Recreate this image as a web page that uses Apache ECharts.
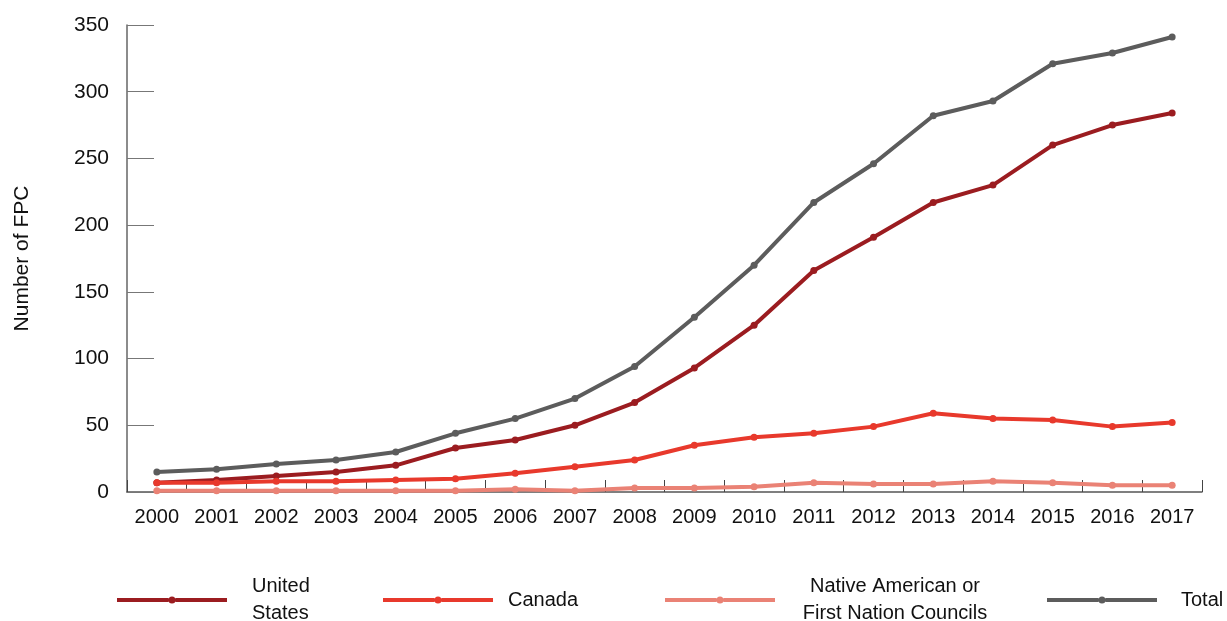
<!DOCTYPE html>
<html>
<head>
<meta charset="utf-8">
<script src="https://cdn.jsdelivr.net/npm/echarts@6/dist/echarts.min.js"></script>
<style>
html,body{margin:0;padding:0;background:#fff;}
#chart{width:1227px;height:621px;}
</style>
</head>
<body>
<div id="chart"></div>
<script>
var years = ['2000','2001','2002','2003','2004','2005','2006','2007','2008','2009','2010','2011','2012','2013','2014','2015','2016','2017'];
var unitedStates = [7, 9, 12, 15, 20, 33, 39, 50, 67, 93, 125, 166, 191, 217, 230, 260, 275, 284];
var canada = [7, 7, 8, 8, 9, 10, 14, 19, 24, 35, 41, 44, 49, 59, 55, 54, 49, 52];
var nativeCouncils = [1, 1, 1, 1, 1, 1, 2, 1, 3, 3, 4, 7, 6, 6, 8, 7, 5, 5];
var total = [15, 17, 21, 24, 30, 44, 55, 70, 94, 131, 170, 217, 246, 282, 293, 321, 329, 341];
var yTicks = {min: 0, max: 350, interval: 50};
var seriesNames = ['United\nStates', 'Canada', 'Native American or\nFirst Nation Councils', 'Total'];

var colors = ['#9B1C20', '#E8392C', '#EA8275', '#5C5C5C'];
var font = 'Liberation Sans, Arial, sans-serif';
var chart = echarts.init(document.getElementById('chart'), null, {renderer: 'canvas'});

var legendIcon = 'path://M0,2 L51.6,2 L51.6,6 L0,6 Z M58.4,2 L110,2 L110,6 L58.4,6 Z M51.5,4 A3.5,3.5 0 1,1 58.5,4 A3.5,3.5 0 1,1 51.5,4 Z M0,0 L0.01,0 L0.01,0.01 Z M0,8 L0.01,8 L0.01,7.99 Z';
var LH = 27;

function mkSeries(name, data, color, z) {
  return {
    name: name, type: 'line', data: data, z: z,
    symbol: 'circle', symbolSize: 7, showSymbol: true,
    lineStyle: {width: 4, color: color},
    itemStyle: {color: color},
    emphasis: {disabled: true}
  };
}
function mkLegend(name, left, lines, pad, extra) {
  var ts = {fontFamily: font, fontSize: 20, color: '#111', lineHeight: LH, padding: [0, 0, 0, pad]};
  var lg = {
    data: [name], left: left, top: lines === 2 ? 600 - LH : 600 - LH / 2,
    padding: 0, itemWidth: 110, itemHeight: 8, itemGap: 0,
    icon: legendIcon,
    textStyle: ts, selectedMode: false
  };
  if (extra) { for (var k in extra) lg[k] = extra[k]; }
  return lg;
}
chart.setOption({
  animation: false,
  color: colors,
  grid: {left: 127, right: 25, top: 25, bottom: 129},
  legend: [
    mkLegend(seriesNames[0], 117, 2, 20),
    mkLegend(seriesNames[1], 383, 1, 10),
    mkLegend(seriesNames[2], 665, 2, 15, {
      formatter: function () { return '{a|Native American or}\n{a|First Nation Councils}'; },
      textStyle: {fontFamily: font, fontSize: 20, color: '#111', lineHeight: LH, padding: [0, 0, 0, 15],
        rich: {a: {fontFamily: font, fontSize: 20, color: '#111', lineHeight: LH, width: 200, align: 'center'}}}
    }),
    mkLegend(seriesNames[3], 1047, 1, 19)
  ],
  xAxis: {
    type: 'category', data: years, boundaryGap: true,
    axisLine: {lineStyle: {color: '#555', width: 1.5}},
    axisTick: {show: true, inside: true, length: 12, interval: 0, lineStyle: {color: '#444'}},
    axisLabel: {fontFamily: font, fontSize: 20, color: '#111', margin: 15, interval: 0}
  },
  yAxis: {
    type: 'value', min: yTicks.min, max: yTicks.max, interval: yTicks.interval,
    name: 'Number of FPC', nameLocation: 'middle', nameRotate: 90, nameGap: 94,
    nameTextStyle: {fontFamily: font, fontSize: 21, color: '#111'},
    axisLine: {show: true, lineStyle: {color: '#666', width: 1.5}},
    axisTick: {show: true, inside: true, length: 27, lineStyle: {color: '#777'}},
    splitLine: {show: false},
    axisLabel: {fontFamily: font, fontSize: 21, color: '#111', margin: 18}
  },
  series: [
    mkSeries(seriesNames[0], unitedStates, colors[0], 3),
    mkSeries(seriesNames[1], canada, colors[1], 4),
    mkSeries(seriesNames[2], nativeCouncils, colors[2], 2),
    mkSeries(seriesNames[3], total, colors[3], 5)
  ]
});
</script>
</body>
</html>
